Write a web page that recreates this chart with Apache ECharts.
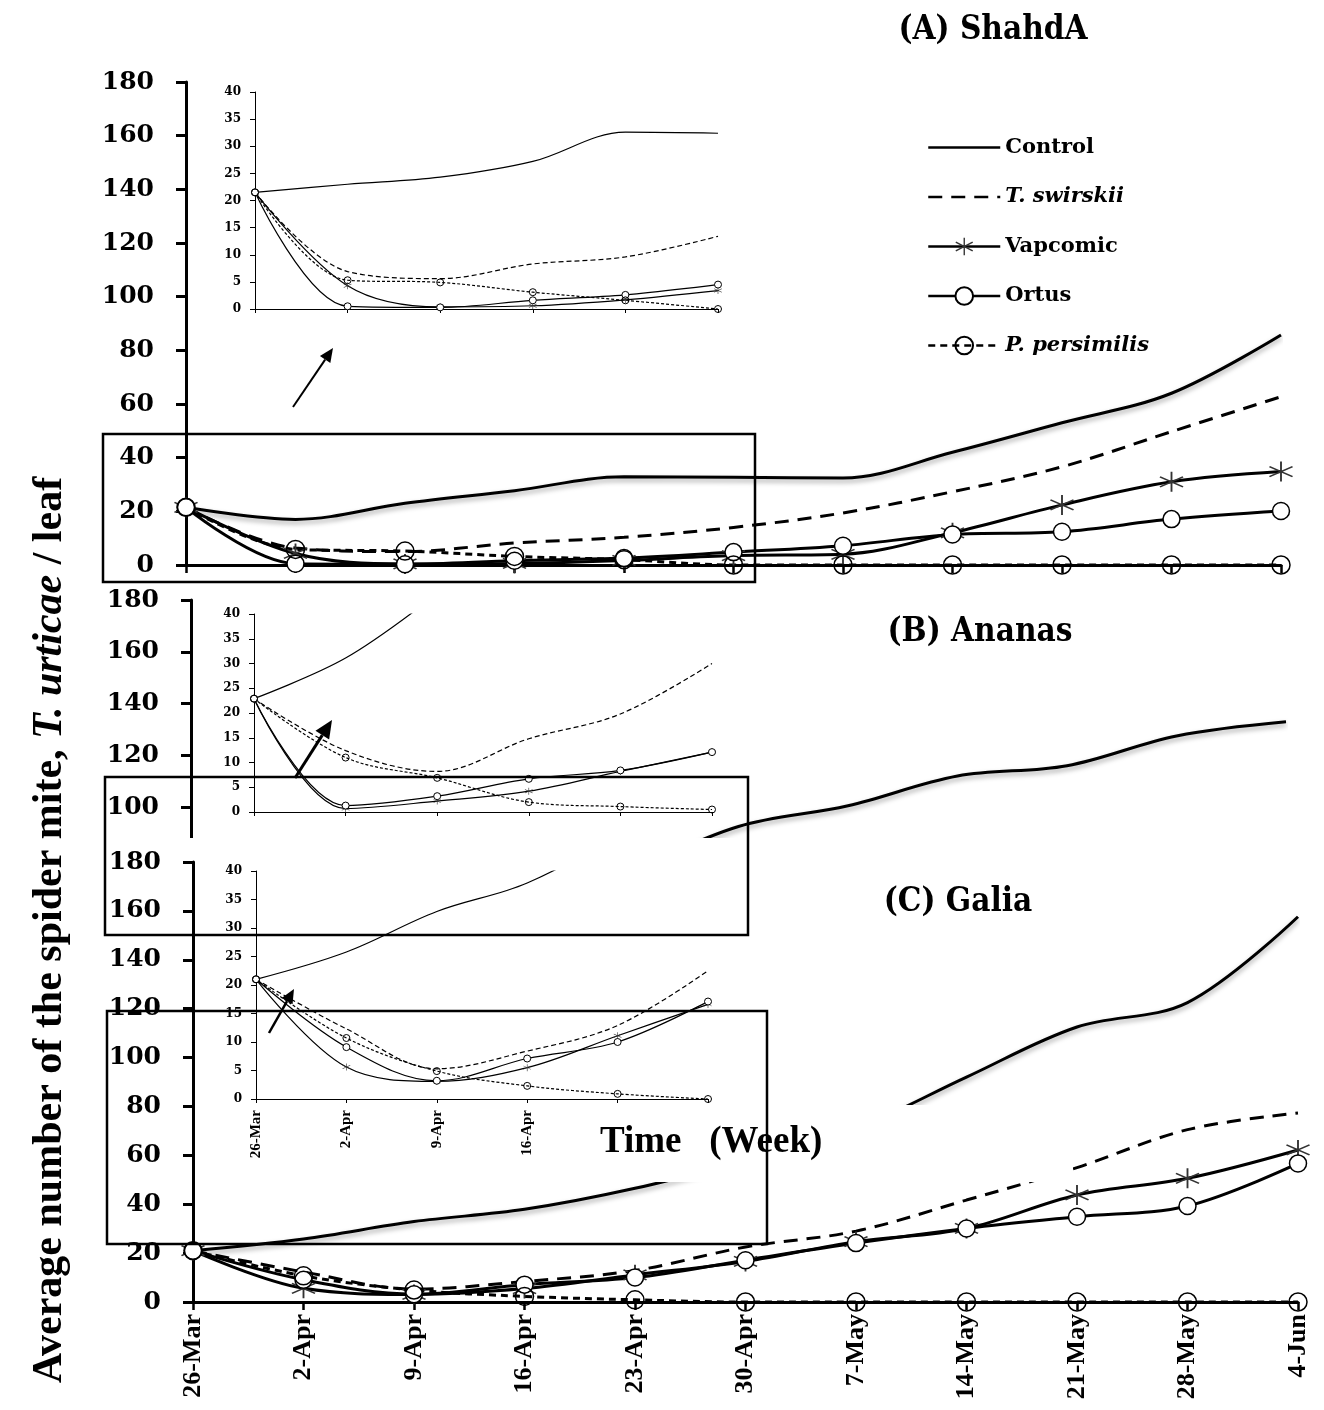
<!DOCTYPE html>
<html>
<head>
<meta charset="utf-8">
<script src="https://cdn.jsdelivr.net/npm/echarts@6/dist/echarts.min.js"></script>
<style>
html, body { margin: 0; padding: 0; background: #fff; }
#chart { width: 1324px; height: 1410px; }
</style>
</head>
<body>
<div id="chart"></div>
<script>
const weeks = ['26-Mar', '2-Apr', '9-Apr', '16-Apr', '23-Apr', '30-Apr', '7-May', '14-May', '21-May', '28-May', '4-Jun']
const insetWeeks = weeks.slice(0, 6)
const names = ['Control', 'T. swirskii', 'Vapcomic', 'Ortus', 'P. persimilis']

// (A) ShahdA - main panel
const shahdControl = [21.5, 17, 23, 27.7, 32.9, 32.7, 32.4, 42, 53, 64, 85.7]
const shahdSwirskii = [21.5, 6.3, 5, 8.2, 10.3, 14, 19.4, 27.3, 36.6, 49.7, 62.7]
const shahdVapcomic = [21.5, 4.3, 0.4, 0.6, 1.7, 3.5, 4, 12, 22.4, 31, 34.8]
const shahdOrtus = [21.5, 0.5, 0.3, 1.6, 2.6, 4.8, 7.2, 11.4, 12.4, 17.1, 20.1]
const shahdPersimilis = [21.5, 5.8, 5.2, 3.2, 2, 0, 0, 0, 0, 0, 0]
// (A) inset, first six weeks
const shahdInControl = [21.5, 23, 24.3, 27.2, 32.6, 32.4]
const shahdInSwirskii = [21.5, 6.9, 5.6, 8.3, 9.6, 13.4]
const shahdInVapcomic = [21.5, 4.3, 0.4, 0.6, 1.7, 3.4]
const shahdInOrtus = [21.5, 0.5, 0.3, 1.6, 2.6, 4.5]
const shahdInPersimilis = [21.5, 5.3, 4.9, 3.1, 1.6, 0]

// (B) Ananas - only the control line shows above panel C
const ananasControl = [22.9, 31.1, 44, 58, 75, 92.5, 100.5, 112, 116, 127.5, 133]
const ananasInSwirskii = [22.9, 12.4, 8.2, 14.8, 19.8, 30]
const ananasInVapcomic = [22.9, 0.7, 2.2, 4.2, 8.2, 12.1]
const ananasInOrtus = [22.9, 1.3, 3.2, 6.7, 8.4, 12.1]
const ananasInPersimilis = [22.9, 11, 6.9, 2, 1.1, 0.5]

// (C) Galia
const galiaControl = [21, 25.8, 32.9, 37.9, 46.5, 58, 71, 92, 112.5, 122.5, 157.6]
const galiaSwirskii = [21, 12.3, 5.3, 8.4, 12.9, 22.5, 29, 41.7, 55, 70.5, 77.3]
const galiaVapcomic = [21, 5.6, 3.1, 5.5, 11.1, 16.6, 24.7, 30.1, 43.8, 50.6, 62.2]
const galiaOrtus = [21, 9.1, 3.2, 7.1, 10, 17.1, 24.1, 30.1, 34.9, 39.3, 56.7]
const galiaPersimilis = [21, 10.7, 4.9, 2.3, 0.9, 0, 0, 0, 0, 0, 0]

const mainMax = 180, mainStep = 20
const insetMax = 40, insetStep = 5

const serifWide = 'DejaVu Serif'
const serif = 'Liberation Serif'

// asterisk marker made of three thin bars
function bar (deg) {
  const a = deg * Math.PI / 180, L = 10, w = 0.7
  const dx = Math.cos(a), dy = Math.sin(a), nx = -dy, ny = dx
  const p = [[L * dx + w * nx, L * dy + w * ny], [L * dx - w * nx, L * dy - w * ny],
    [-L * dx - w * nx, -L * dy - w * ny], [-L * dx + w * nx, -L * dy + w * ny]]
  return 'M' + p.map(q => q[0].toFixed(2) + ',' + q[1].toFixed(2)).join('L') + 'Z'
}
const star = 'path://' + [90, 30, -30].map(bar).join(' ')

function mainX (grid, z, labels) {
  return {
    type: 'category', gridIndex: grid, data: weeks, boundaryGap: false, z: z,
    axisLine: { lineStyle: { color: '#000', width: 3 } },
    axisTick: { show: true, length: 8, lineStyle: { color: '#000', width: 2.5 } },
    axisLabel: labels ? { show: true, rotate: 90, margin: 12, color: '#000', fontFamily: serif, fontWeight: 'bold', fontSize: 26 } : { show: false },
    splitLine: { show: false }
  }
}
function mainY (grid, z) {
  return {
    type: 'value', gridIndex: grid, min: 0, max: mainMax, interval: mainStep, z: z,
    axisLine: { show: true, lineStyle: { color: '#000', width: 3 } },
    axisTick: { show: true, length: 10, lineStyle: { color: '#000', width: 3 } },
    axisLabel: { margin: 32, color: '#000', fontFamily: serifWide, fontWeight: 'bold', fontSize: 25 },
    splitLine: { show: false }
  }
}
function insetX (grid, z, labels) {
  return {
    type: 'category', gridIndex: grid, data: insetWeeks, boundaryGap: false, z: z,
    axisLine: { lineStyle: { color: '#000', width: 1 } },
    axisTick: { show: true, length: 4, lineStyle: { color: '#000', width: 1 } },
    axisLabel: labels ? { show: true, rotate: 90, margin: 11, color: '#000', fontFamily: serif, fontWeight: 'bold', fontSize: 15 } : { show: false },
    splitLine: { show: false }
  }
}
function insetY (grid, z) {
  return {
    type: 'value', gridIndex: grid, min: 0, max: insetMax, interval: insetStep, z: z,
    axisLine: { show: true, lineStyle: { color: '#000', width: 1 } },
    axisTick: { show: true, length: 5, lineStyle: { color: '#000', width: 1 } },
    axisLabel: { margin: 14, color: '#000', fontFamily: serifWide, fontWeight: 'bold', fontSize: 12 },
    splitLine: { show: false }
  }
}

// kind: 0 control, 1 swirskii, 2 vapcomic, 3 ortus, 4 persimilis
function line (kind, axis, data, z, inset, shadow) {
  const w = inset ? 1.2 : 3
  const s = {
    name: names[kind], type: 'line', xAxisIndex: axis, yAxisIndex: axis, data: data, z: z,
    smooth: 0.35, symbol: 'none', showSymbol: true, animation: false,
    lineStyle: { color: '#000', width: w, type: 'solid' },
    itemStyle: { color: '#000' }
  }
  if (kind === 1) s.lineStyle.type = inset ? [5, 3] : [14, 9]
  if (kind === 4) s.lineStyle.type = inset ? [3, 2] : [7, 5]
  if (kind === 2) {
    s.symbol = star
    s.symbolSize = inset ? [8, 7] : [24, 20]
    s.itemStyle = { color: '#333' }
  }
  if (kind === 3) {
    s.symbol = 'circle'
    s.symbolSize = inset ? 7 : 17
    s.itemStyle = { color: '#fff', borderColor: '#000', borderWidth: inset ? 1 : 1.5 }
  }
  if (kind === 4) {
    s.symbol = 'circle'
    s.symbolSize = inset ? 7 : 18
    s.itemStyle = { color: 'rgba(255,255,255,0)', borderColor: '#000', borderWidth: inset ? 1 : 1.5 }
  }
  if (shadow) {
    s.lineStyle.shadowColor = 'rgba(0,0,0,0.35)'
    s.lineStyle.shadowBlur = 5
    s.lineStyle.shadowOffsetY = 3
  }
  return s
}

function box (x1, y1, x2, y2) {
  return { type: 'rect', z: 9, shape: { x: x1, y: y1, width: x2 - x1, height: y2 - y1 },
    style: { fill: 'none', stroke: '#000', lineWidth: 2.5 } }
}
function arrow (x1, y1, x2, y2, w, head) {
  const a = Math.atan2(y2 - y1, x2 - x1)
  const bx = x2 - head * Math.cos(a), by = y2 - head * Math.sin(a)
  const hw = head * 0.45
  return [
    { type: 'line', z: 9, shape: { x1: x1, y1: y1, x2: bx, y2: by }, style: { stroke: '#000', lineWidth: w } },
    { type: 'polygon', z: 9, shape: { points: [[x2, y2], [bx + hw * Math.sin(a), by - hw * Math.cos(a)], [bx - hw * Math.sin(a), by + hw * Math.cos(a)]] },
      style: { fill: '#000' } }
  ]
}
function title (text, x, y) {
  return { type: 'text', z: 9, x: x, y: y,
    style: { text: text, align: 'center', verticalAlign: 'middle', fill: '#000',
      fontFamily: "'DejaVu Serif Condensed', 'DejaVu Serif'", fontWeight: 'bold', fontSize: 33 } }
}

// lines without markers get no legend symbol
const legendItems = names.map((n, i) => (i < 2 ? { name: n, itemStyle: { opacity: 0 } } : { name: n }))

const chart = echarts.init(document.getElementById('chart'), null, { renderer: 'canvas' })
chart.setOption({
  animation: false,
  backgroundColor: '#fff',
  grid: [
    { left: 186, top: 82, width: 1095, height: 483 },
    { left: 255, top: 92, width: 463, height: 217 },
    { left: 191, top: 600, width: 1095, height: 466 },
    { left: 254, top: 614, width: 458, height: 198 },
    { left: 193, top: 862, width: 1105, height: 440 },
    { left: 256, top: 871, width: 452, height: 228 }
  ],
  xAxis: [
    mainX(0, 1, false), insetX(1, 3, false),
    Object.assign(mainX(2, 1, false), { show: false }), insetX(3, 3, false),
    mainX(4, 5, true), insetX(5, 7, true)
  ],
  yAxis: [mainY(0, 1), insetY(1, 3), mainY(2, 1), insetY(3, 3), mainY(4, 5), insetY(5, 7)],
  legend: {
    orient: 'vertical', left: 927, top: 137, itemWidth: 72, itemHeight: 22, itemGap: 28.5,
    padding: 0, selectedMode: false, data: legendItems, z: 9,
    lineStyle: { width: 2.5 },
    formatter: n => (n.indexOf('.') > 0 ? '{i|' + n + '}' : n),
    textStyle: {
      color: '#000', fontFamily: serifWide, fontWeight: 'bold', fontSize: 21,
      rich: { i: { color: '#000', fontFamily: serifWide, fontWeight: 'bold', fontStyle: 'italic', fontSize: 21 } }
    }
  },
  series: [
    line(0, 0, shahdControl, 2, false, true),
    line(1, 0, shahdSwirskii, 2, false),
    line(2, 0, shahdVapcomic, 2, false),
    line(3, 0, shahdOrtus, 2, false),
    line(4, 0, shahdPersimilis, 2, false),
    line(0, 1, shahdInControl, 3, true),
    line(1, 1, shahdInSwirskii, 3, true),
    line(2, 1, shahdInVapcomic, 3, true),
    line(3, 1, shahdInOrtus, 3, true),
    line(4, 1, shahdInPersimilis, 3, true),
    line(0, 2, ananasControl, 2, false, true),
    line(0, 3, ananasControl.slice(0, 6), 3, true),
    line(1, 3, ananasInSwirskii, 3, true),
    line(2, 3, ananasInVapcomic, 3, true),
    line(3, 3, ananasInOrtus, 3, true),
    line(4, 3, ananasInPersimilis, 3, true),
    line(0, 4, galiaControl, 6, false, true),
    line(1, 4, galiaSwirskii, 6, false),
    line(2, 4, galiaVapcomic, 6, false),
    line(3, 4, galiaOrtus, 6, false),
    line(4, 4, galiaPersimilis, 6, false),
    line(0, 5, galiaControl.slice(0, 6), 7, true),
    line(1, 5, galiaSwirskii.slice(0, 6), 7, true),
    line(2, 5, galiaVapcomic.slice(0, 6), 7, true),
    line(3, 5, galiaOrtus.slice(0, 6), 7, true),
    line(4, 5, galiaPersimilis.slice(0, 6), 7, true)
  ],
  graphic: [
    // panel C is pasted over the lower part of panel B
    { type: 'rect', z: 4, shape: { x: 0, y: 838, width: 1324, height: 600 }, style: { fill: '#fff' } },
    // text box of the x axis title
    { type: 'rect', z: 8, shape: { x: 595, y: 1105, width: 478, height: 77 }, style: { fill: '#fff' } },
    { type: 'text', z: 9, x: 600, y: 1142,
      style: { text: 'Time   (Week)', align: 'left', verticalAlign: 'middle', fill: '#000', fontFamily: serif, fontWeight: 'bold', fontSize: 37 } },
    box(103, 434, 755, 582),
    box(105, 777, 748, 935),
    box(107, 1011, 767, 1244),
    ...arrow(293, 407, 333, 348, 2, 14),
    ...arrow(295, 778, 332, 720, 3, 18),
    ...arrow(269, 1033, 294, 989, 2.5, 14),
    title('(A) ShahdA', 993, 30),
    title('(B) Ananas', 980, 632),
    title('(C) Galia', 958, 902),
    { type: 'text', z: 9, x: 50, y: 930, rotation: Math.PI / 2,
      style: {
        text: '{n|Average number of the spider mite, }{i|T. urticae}{n| / leaf}',
        align: 'center', verticalAlign: 'middle', fill: '#000',
        rich: {
          n: { fill: '#000', fontFamily: serif, fontWeight: 'bold', fontSize: 42 },
          i: { fill: '#000', fontFamily: serif, fontWeight: 'bold', fontStyle: 'italic', fontSize: 42 }
        }
      } }
  ]
})
</script>
</body>
</html>
